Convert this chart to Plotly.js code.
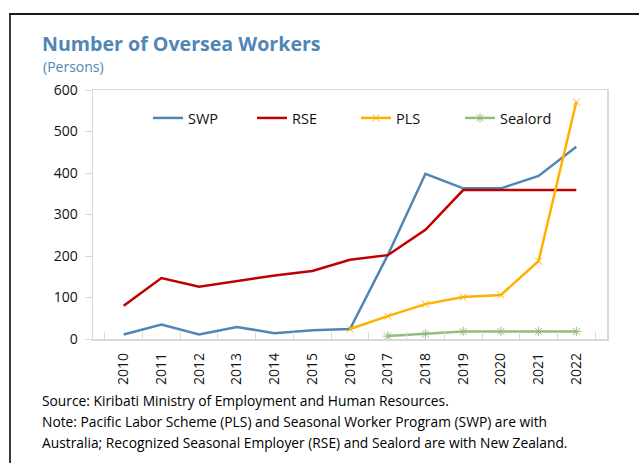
<!DOCTYPE html>
<html>
<head>
<meta charset="utf-8">
<script src="https://cdn.plot.ly/plotly-3.0.1.min.js"></script>
<style>
html,body{margin:0;padding:0;background:#fff;}
#chart{width:639px;height:463px;}
</style>
</head>
<body>
<div id="chart"></div>
<script>
const years = ["2010","2011","2012","2013","2014","2015","2016","2017","2018","2019","2020","2021","2022"];
const swp = [11, 35, 11, 29, 14, 21, 24, 202, 398, 363, 363, 393, 463];
const rse = [80, 147, 126, 139, 153, 164, 191, 202, 263, 359, 359, 359, 359];
const pls = [null, null, null, null, null, null, 24, 55, 84, 101, 106, 188, 571];
const sealord = [null, null, null, null, null, null, null, 7, 12, 18, 18, 18, 18];

const titleText = "Number of Oversea Workers";
const unitText = "(Persons)";
const footLines = [
  "Source: Kiribati Ministry of Employment and Human Resources.",
  "Note: Pacific Labor Scheme (PLS) and Seasonal Worker Program (SWP) are with",
  "Australia; Recognized Seasonal Employer (RSE) and Sealord are with New Zealand."
];

const FONT = "Open Sans, Noto Sans, sans-serif";
const W = 639, H = 463;
const L = 93, R = 607, T = 90, B = 339;
const px = x => (x - L) / (R - L);
const py = y => (B - y) / (B - T);

const traces = [
  {x: years, y: swp, name: "SWP", type: "scatter", mode: "lines",
   line: {color: "#4f86b7", width: 2.5}},
  {x: years, y: rse, name: "RSE", type: "scatter", mode: "lines",
   line: {color: "#c00000", width: 2.5}},
  {x: years, y: pls, name: "PLS", type: "scatter", mode: "lines+markers",
   line: {color: "#ffb000", width: 2.5},
   marker: {symbol: "x-thin-open", size: 7, color: "#ffb000", line: {color: "#ffb000", width: 1}}},
  {x: years, y: sealord, name: "Sealord", type: "scatter", mode: "lines+markers",
   line: {color: "#93bd7e", width: 2.5},
   marker: {symbol: "asterisk-open", size: 8, color: "#93bd7e", line: {color: "#93bd7e", width: 1}}}
];

const annotations = [
  {text: unitText, xref: "paper", yref: "paper", x: px(41), y: py(67), xanchor: "left", yanchor: "middle",
   showarrow: false, font: {family: FONT, size: 14, color: "#4f86b7"}}
];
const footY = [400, 421, 442];
footLines.forEach((t, i) => annotations.push({
  text: t, xref: "paper", yref: "paper", x: px(40), y: py(footY[i]), xanchor: "left", yanchor: "middle",
  showarrow: false, font: {family: FONT, size: 13.8, color: "#000"}
}));

const layout = {
  width: W, height: H,
  margin: {l: L, r: W - R, t: T, b: H - B, pad: 0},
  paper_bgcolor: "#fff", plot_bgcolor: "#fff",
  font: {family: FONT, size: 14, color: "#111"},
  title: {text: "<b>" + titleText + "</b>", x: 42 / W, xanchor: "left", xref: "container",
          y: 1 - 44 / H, yanchor: "middle", yref: "container",
          font: {family: FONT, size: 19.6, color: "#4f86b7"}},
  showlegend: true,
  legend: {orientation: "h", x: px(148), y: py(118), xanchor: "left", yanchor: "middle",
           bgcolor: "rgba(0,0,0,0)", font: {family: FONT, size: 14.5, color: "#111"},
           entrywidth: 59, entrywidthmode: "pixels", itemwidth: 30, tracegroupgap: 0},
  xaxis: {type: "category", categoryorder: "array", categoryarray: years,
          ticks: "inside", tickson: "boundaries", ticklen: 7, tickcolor: "#d9d9d9",
          showline: true, linecolor: "#d9d9d9", linewidth: 1.5, mirror: true,
          showgrid: false, zeroline: false, tickangle: -90, ticklabelstandoff: 7,
          tickfont: {family: FONT, size: 14, color: "#111"}},
  yaxis: {range: [0, 600], dtick: 100, ticks: "outside", ticklen: 7, tickcolor: "#d9d9d9",
          showline: true, linecolor: "#d9d9d9", linewidth: 1.5, mirror: true,
          showgrid: false, zeroline: false, ticklabelstandoff: 4,
          tickfont: {family: FONT, size: 14, color: "#111"}},
  annotations: annotations,
  shapes: [
    {type: "line", xref: "paper", yref: "paper", x0: px(10), x1: px(10), y0: py(13), y1: py(463),
     line: {color: "#3a3a3a", width: 2}},
    {type: "line", xref: "paper", yref: "paper", x0: px(9), x1: px(639), y0: py(14), y1: py(14),
     line: {color: "#1a1a1a", width: 2}}
  ]
};

Plotly.newPlot("chart", traces, layout, {displayModeBar: false, staticPlot: true});
</script>
</body>
</html>
